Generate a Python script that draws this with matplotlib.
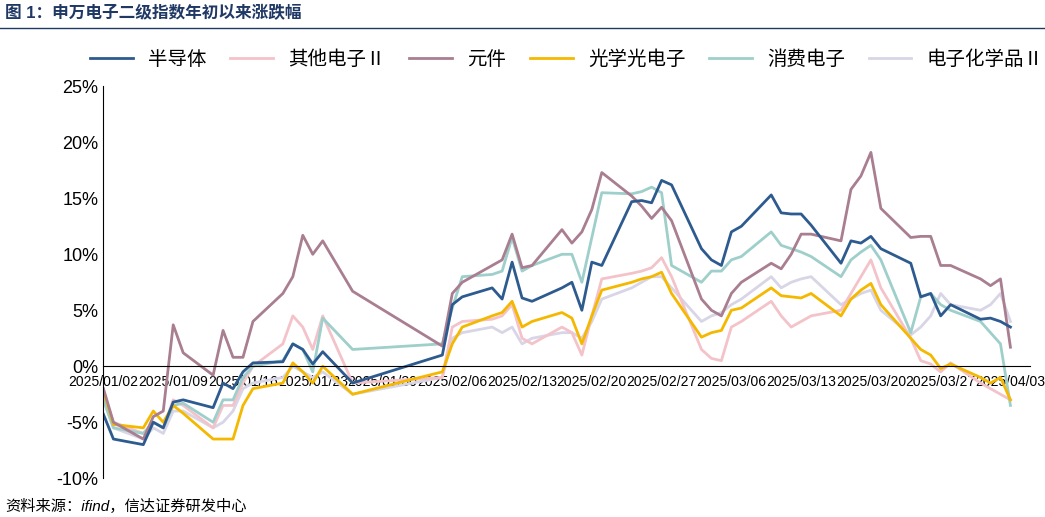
import matplotlib
matplotlib.use("Agg")
import matplotlib.pyplot as plt
import pandas as pd

plt.rcParams["font.family"] = ["Liberation Sans", "Noto Sans CJK SC", "DejaVu Sans"]

dates = (["2025-01-%02d" % d for d in [2,3,6,7,8,9,10,13,14,15,16,17,20,21,22,23,24,27]] +
         ["2025-02-%02d" % d for d in [5,6,7,10,11,12,13,14,17,18,19,20,21,24,25,26,27,28]] +
         ["2025-03-%02d" % d for d in [3,4,5,6,7,10,11,12,13,14,17,18,19,20,21,24,25,26,27,28,31]] +
         ["2025-04-%02d" % d for d in [1,2,3]])

semi = [-4.3,-6.5,-7.0,-5.0,-5.5,-3.2,-3.0,-3.7,-1.5,-2.0,-0.5,0.3,0.4,2.0,1.5,0.2,1.3,-1.5,
        1.0,5.5,6.2,7.0,6.0,9.3,6.1,5.8,7.0,7.5,5.0,9.3,9.0,14.7,14.8,14.6,16.6,16.2,
        10.5,9.5,9.0,12.0,12.5,15.3,13.7,13.6,13.6,12.6,9.2,11.2,11.0,11.6,10.5,9.2,6.2,6.5,4.5,5.5,4.2,
        4.3,4.0,3.5]
other = [-2.5,-5,-6,-5,-5.5,-3,-3.5,-5.5,-3.5,-3.5,-1.5,0,2.0,4.5,3.5,1.5,4.5,-1.5,
         -1.0,3.5,4.0,4.2,4.5,5.5,2.5,2.0,3.5,3.0,1.0,4.5,7.8,8.3,8.5,8.8,9.7,8.0,
         1.5,0.7,0.5,3.5,4.0,5.8,4.5,3.5,4.0,4.5,5.0,6.5,8.0,9.5,7.0,2.5,0.5,0.2,-0.5,0.3,-1.5,
         -2.0,-2.5,-3.0]
comp = [-2.0,-5,-6.5,-4.5,-4,3.7,1.2,-0.8,3.2,0.8,0.8,4.0,6.5,8.0,11.7,10.0,11.2,6.7,
        1.8,6.5,7.5,9.0,9.5,11.8,8.8,9.0,12.2,11.0,12.0,14.0,17.3,15.2,14.3,13.2,14.2,13.0,
        6.0,5.0,4.5,6.5,7.5,9.2,8.7,10.0,11.8,11.8,11.2,15.8,17.0,19.1,14.1,11.5,11.6,11.6,9.0,9.0,7.8,
        7.2,7.8,1.7]
opto = [-2.2,-5.2,-5.5,-4,-5,-3.5,-4.2,-6.5,-6.5,-6.5,-3.5,-2,-1.5,0.3,-0.5,-1.5,0,-2.5,
        -0.5,2,3.5,4.5,4.8,5.8,3.5,4.0,4.8,4.3,2.0,4.5,6.8,7.5,7.8,8.0,8.4,6.5,
        2.6,3.0,3.2,5.0,5.2,7.0,6.3,6.2,6.1,6.5,4.5,6.0,6.8,7.4,5.5,2.5,1.5,1.0,-0.2,0.2,-1.0,
        -1.5,-1.0,-3.0]
cons = [-3,-5.5,-6,-5,-5.5,-3.5,-3.3,-5,-3,-3,-1,0,0.5,2.0,1.5,-0.5,4.3,1.5,
        2.0,5.2,8.0,8.2,8.5,11.5,8.5,9.0,10.0,10.0,7.5,11.5,15.5,15.4,15.6,16.0,15.5,9.0,
        7.5,8.5,8.5,9.5,9.8,12.0,10.8,10.5,10.2,9.8,8.0,9.5,10.2,10.8,9.5,3.0,6.2,6.5,5.5,5.0,4.0,
        3.0,2.0,-3.5]
chem = [-3,-5.5,-6.5,-5.5,-6,-4,-4,-5.5,-5,-4,-2,-1.5,-1.0,0,-0.5,-1,-0.5,-2.5,
        -1.0,2.5,3.0,3.5,3.0,3.5,2.0,2.5,3.0,3.0,2.5,4.0,6.0,7.0,7.5,8.0,8.0,7.0,
        4.0,4.5,4.8,5.5,6.0,8.0,7.0,7.5,7.8,8.0,5.5,6.0,6.5,6.8,5.0,2.8,3.5,4.5,6.5,5.5,5.0,
        5.5,6.5,4.0]

names = ["半导体", "其他电子Ⅱ", "元件", "光学光电子", "消费电子", "电子化学品Ⅱ"]
tick_dates = ["2025-01-02","2025-01-09","2025-01-16","2025-01-23","2025-01-30","2025-02-06",
              "2025-02-13","2025-02-20","2025-02-27","2025-03-06","2025-03-13","2025-03-20",
              "2025-03-27","2025-04-03"]

x = pd.to_datetime(dates)
fig = plt.figure(figsize=(10.45, 5.17), dpi=100)
ax = fig.add_axes([0.099, 0.075, 0.887, 0.758])

series = [(names[5], chem, "#D8D5E6"), (names[1], other, "#F3C3C9"), (names[4], cons, "#9ECFCB"),
          (names[3], opto, "#F5B800"), (names[2], comp, "#A97E90"), (names[0], semi, "#2E5B8F")]
handles = {}
for n, v, c in series:
    h, = ax.plot(x, v, color=c, lw=2)
    handles[n] = h
ax.legend([handles[n] for n in names], names, loc="lower center", bbox_to_anchor=(0.5, 1.0),
          ncol=6, frameon=False, fontsize=14, handlelength=2.2, columnspacing=1.2)

ax.set_ylim(-10, 25)
ax.set_yticks(range(-10, 26, 5))
ax.set_yticklabels([f"{v}%" for v in range(-10, 26, 5)], fontsize=13)
ax.set_xlim(pd.Timestamp("2025-01-02"), pd.Timestamp("2025-04-05"))
tk = pd.to_datetime(tick_dates)
ax.set_xticks(tk)
ax.set_xticklabels([d.replace("-", "/") for d in tick_dates], fontsize=13)
plt.setp(ax.get_xticklabels(), rotation=45, ha="right", rotation_mode="anchor")
ax.spines["top"].set_visible(False)
ax.spines["right"].set_visible(False)
ax.spines["bottom"].set_position(("data", 0))
ax.tick_params(axis="x", length=0, pad=6)
ax.tick_params(axis="y", length=0)

fig.text(0.005, 0.965, "图 1：申万电子二级指数年初以来涨跌幅", fontsize=12, fontweight="bold",
         color="#1F3864")
fig.text(0.005, 0.012, "资料来源：ifind，信达证券研发中心", fontsize=11, style="italic")
fig.add_artist(plt.Line2D([0, 1], [0.945, 0.945], color="#1F3864", lw=1))
fig.savefig("out.png", dpi=100)
